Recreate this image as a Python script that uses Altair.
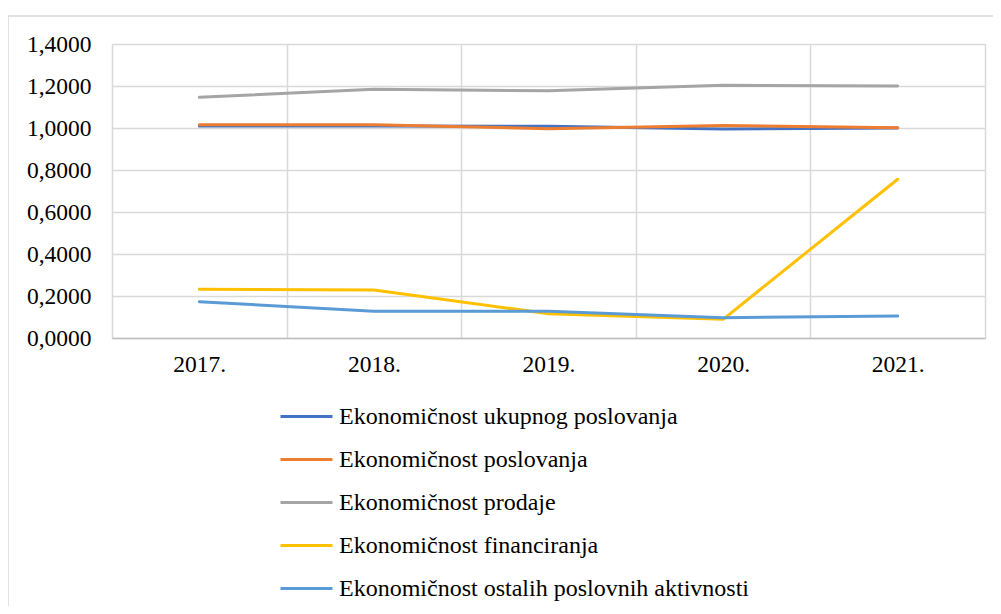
import altair as alt
import pandas as pd

years = ["2017.", "2018.", "2019.", "2020.", "2021."]
series_names = [
    "Ekonomičnost ukupnog poslovanja",
    "Ekonomičnost poslovanja",
    "Ekonomičnost prodaje",
    "Ekonomičnost financiranja",
    "Ekonomičnost ostalih poslovnih aktivnosti",
]
ukupnog = [1.010, 1.010, 1.008, 0.995, 1.000]
poslovanja = [1.015, 1.015, 0.997, 1.012, 1.001]
prodaje = [1.146, 1.184, 1.177, 1.203, 1.200]
financiranja = [0.232, 0.229, 0.116, 0.089, 0.756]
ostalih = [0.173, 0.127, 0.127, 0.097, 0.105]
colors = ["#4472C4", "#ED7D31", "#A5A5A5", "#FFC000", "#5B9BD5"]
y_ticks = [0, 0.2, 0.4, 0.6, 0.8, 1.0, 1.2, 1.4]

all_series = [ukupnog, poslovanja, prodaje, financiranja, ostalih]
rows = []
for i, (name, vals) in enumerate(zip(series_names, all_series)):
    for yr, v in zip(years, vals):
        rows.append({"year": yr, "series": name, "value": v, "order": i})
df = pd.DataFrame(rows)

FONT = "Liberation Serif, Times New Roman, serif"
GRID = "#d9d9d9"

lines = alt.Chart(df).mark_line(strokeWidth=3, strokeCap="round", strokeJoin="round").encode(
    x=alt.X(
        "year:N",
        sort=years,
        scale=alt.Scale(type="band", paddingInner=0, paddingOuter=0),
        axis=alt.Axis(
            title=None, labelAngle=0, ticks=False, tickBand="extent",
            domainColor="#bfbfbf", domainWidth=1.5,
            gridColor=GRID, gridWidth=1.5, grid=True,
            labelFont=FONT, labelFontSize=23.5, labelColor="black", labelPadding=14,
        ),
    ),
    y=alt.Y(
        "value:Q",
        scale=alt.Scale(domain=[0, 1.4], nice=False, zero=True),
        axis=alt.Axis(
            title=None, values=y_ticks, ticks=False, domain=False,
            gridColor=GRID, gridWidth=1.5,
            labelExpr="replace(format(datum.value, '.4f'), '.', ',')",
            labelFont=FONT, labelFontSize=23.5, labelColor="black", labelPadding=21,
        ),
    ),
    color=alt.Color(
        "series:N",
        scale=alt.Scale(domain=series_names, range=colors),
        legend=alt.Legend(
            title=None, orient="none", legendX=167, legendY=345,
            direction="vertical", symbolType="stroke", symbolSize=2704,
            symbolStrokeWidth=3, labelFont=FONT, labelFontSize=24,
            labelColor="black", labelLimit=600, labelOffset=5, rowPadding=3,
            padding=0,
        ),
    ),
    order=alt.Order("order:Q"),
)

border_df = pd.DataFrame({"a": [0]})
left_border = alt.Chart(border_df).mark_rule(color=GRID, strokeWidth=1.5).encode(
    x=alt.value(-104), y=alt.value(-28), y2=alt.value(620)
)
top_border = alt.Chart(border_df).mark_rule(color=GRID, strokeWidth=1.5).encode(
    x=alt.value(-104), x2=alt.value(1000), y=alt.value(-28)
)

chart = alt.layer(left_border, top_border, lines).properties(
    width=873, height=294,
    autosize=alt.AutoSizeParams(type="none"),
    padding={"left": 104, "top": 36, "right": 8, "bottom": 268},
).configure_view(stroke=GRID, strokeWidth=1.5).configure(font=FONT)

chart.save("out.html", embed_options={"renderer": "svg", "actions": False})
